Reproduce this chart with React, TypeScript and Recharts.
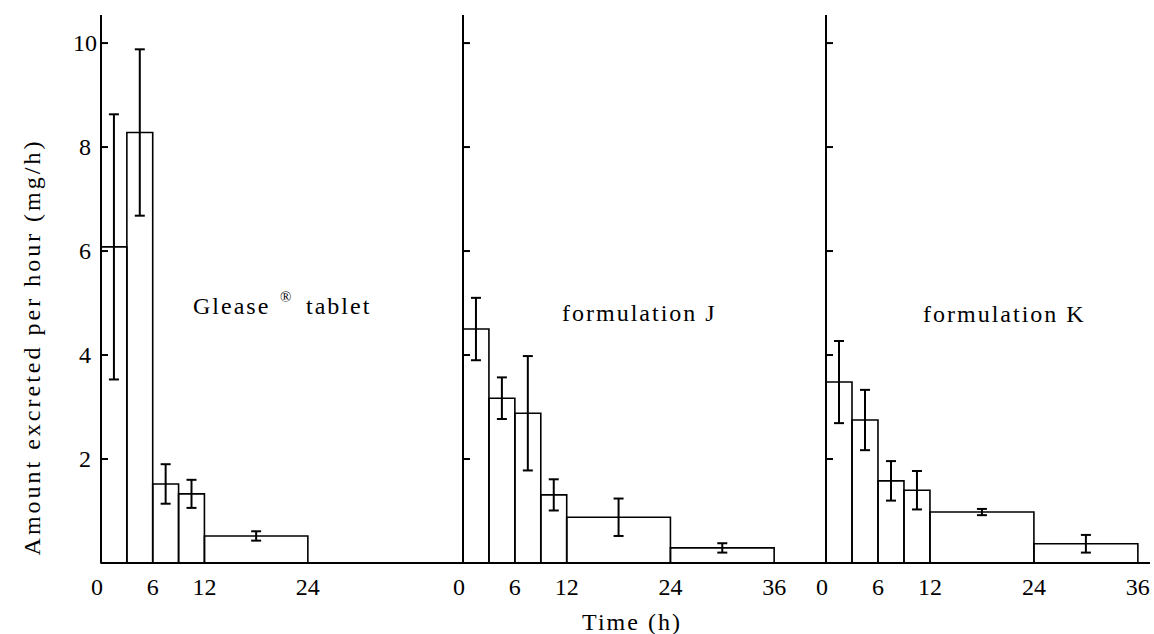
import React from 'react';
import { ComposedChart, XAxis, YAxis, ReferenceArea, Scatter, ErrorBar } from 'recharts';

// Collection intervals (h)
const intervalStart = [0, 3, 6, 9, 12, 24];
const intervalEnd = [3, 6, 9, 12, 24, 36];

// Amount excreted per hour (mg/h), mean and SD
const gleaseMean = [6.08, 8.28, 1.52, 1.33, 0.52, 0];
const gleaseSD = [2.55, 1.6, 0.38, 0.27, 0.09, 0];
const formJMean = [4.5, 3.17, 2.88, 1.31, 0.88, 0.29];
const formJSD = [0.6, 0.4, 1.1, 0.3, 0.36, 0.09];
const formKMean = [3.48, 2.75, 1.58, 1.4, 0.98, 0.37];
const formKSD = [0.79, 0.58, 0.38, 0.37, 0.06, 0.17];

const yTicks = [2, 4, 6, 8, 10];
const xTicksFirst = [0, 6, 12, 24];
const xTicksOther = [0, 6, 12, 24, 36];

const FONT = "'Liberation Serif', 'DejaVu Serif', serif";
const H = 634;
const Y_MAX = 10.54;

const makeYTick = (axisX: number, showLabel: boolean) => (props: any) => {
  const { y, payload } = props;
  return (
    <g>
      <line x1={axisX} x2={axisX + 7} y1={y} y2={y} stroke="#000" strokeWidth={2} />
      {showLabel && (
        <text x={85} y={y} dy={8} textAnchor="middle" fontSize={24} fontFamily={FONT} fill="#000">
          {payload.value}
        </text>
      )}
    </g>
  );
};

const XTick = (props: any) => {
  const { x, payload } = props;
  const off = payload.value === 0 ? -4 : 0;
  return (
    <text x={x + off} y={595} textAnchor="middle" fontSize={24} fontFamily={FONT} fill="#000">
      {payload.value}
    </text>
  );
};

type PanelProps = {
  left: number;
  width: number;
  marginLeft: number;
  axisX: number;
  xMax: number;
  xTicks: number[];
  means: number[];
  sds: number[];
  showYLabels: boolean;
};

const Panel = ({ left, width, marginLeft, axisX, xMax, xTicks, means, sds, showYLabels }: PanelProps) => {
  const points = means
    .map((m, i) => ({ x: (intervalStart[i] + intervalEnd[i]) / 2, y: m, err: sds[i] }))
    .filter((p) => p.y > 0);
  return (
    <div style={{ position: 'absolute', left, top: 0 }}>
      <ComposedChart width={width} height={H} margin={{ top: 15, right: 0, left: marginLeft, bottom: 31 }}>
        <XAxis
          type="number"
          dataKey="x"
          domain={[0, xMax]}
          ticks={xTicks}
          allowDataOverflow
          height={40}
          axisLine={{ stroke: '#000', strokeWidth: 2 }}
          tickLine={false}
          tick={XTick}
          interval={0}
        />
        <YAxis
          type="number"
          dataKey="y"
          domain={[0, Y_MAX]}
          ticks={yTicks}
          allowDataOverflow
          width={40}
          axisLine={{ stroke: '#000', strokeWidth: 2 }}
          tickLine={false}
          tick={makeYTick(axisX, showYLabels)}
          interval={0}
        />
        {means.map((m, i) =>
          m > 0 ? (
            <ReferenceArea
              key={i}
              x1={intervalStart[i]}
              x2={intervalEnd[i]}
              y1={0}
              y2={m}
              fill="none"
              fillOpacity={0}
              stroke="#000"
              strokeWidth={1.6}
              ifOverflow="visible"
            />
          ) : null
        )}
        <Scatter data={points} isAnimationActive={false} shape={() => <g />}>
          <ErrorBar dataKey="err" direction="y" width={5} stroke="#000" strokeWidth={2} isAnimationActive={false} />
        </Scatter>
      </ComposedChart>
    </div>
  );
};

export default function App() {
  return (
    <div style={{ position: 'absolute', left: 0, top: 0, width: 1154, height: H, background: '#fff', overflow: 'hidden' }}>
      <Panel left={0} width={463} marginLeft={61} axisX={101} xMax={42} xTicks={xTicksFirst} means={gleaseMean} sds={gleaseSD} showYLabels />
      <Panel left={423} width={403} marginLeft={0} axisX={40} xMax={42} xTicks={xTicksOther} means={formJMean} sds={formJSD} showYLabels={false} />
      <Panel left={786} width={364} marginLeft={0} axisX={40} xMax={37.4} xTicks={xTicksOther} means={formKMean} sds={formKSD} showYLabels={false} />
      <svg width={1154} height={H} style={{ position: 'absolute', left: 0, top: 0, pointerEvents: 'none' }}>
        <text transform="translate(40,347) rotate(-90)" textAnchor="middle" fontSize={24} letterSpacing={3} fontFamily={FONT} fill="#000">
          Amount excreted per hour (mg/h)
        </text>
        <text x={632} y={630} textAnchor="middle" fontSize={24} letterSpacing={2} fontFamily={FONT} fill="#000">
          Time (h)
        </text>
        <text fontSize={24} letterSpacing={2} fontFamily={FONT} fill="#000">
          <tspan x={193} y={314}>Glease</tspan>
          <tspan x={280} y={302} fontSize={15} letterSpacing={0}>®</tspan>
          <tspan x={306} y={314}>tablet</tspan>
        </text>
        <text x={562} y={321} fontSize={24} letterSpacing={2} fontFamily={FONT} fill="#000">
          formulation J
        </text>
        <text x={923} y={322} fontSize={24} letterSpacing={2} fontFamily={FONT} fill="#000">
          formulation K
        </text>
      </svg>
    </div>
  );
}
